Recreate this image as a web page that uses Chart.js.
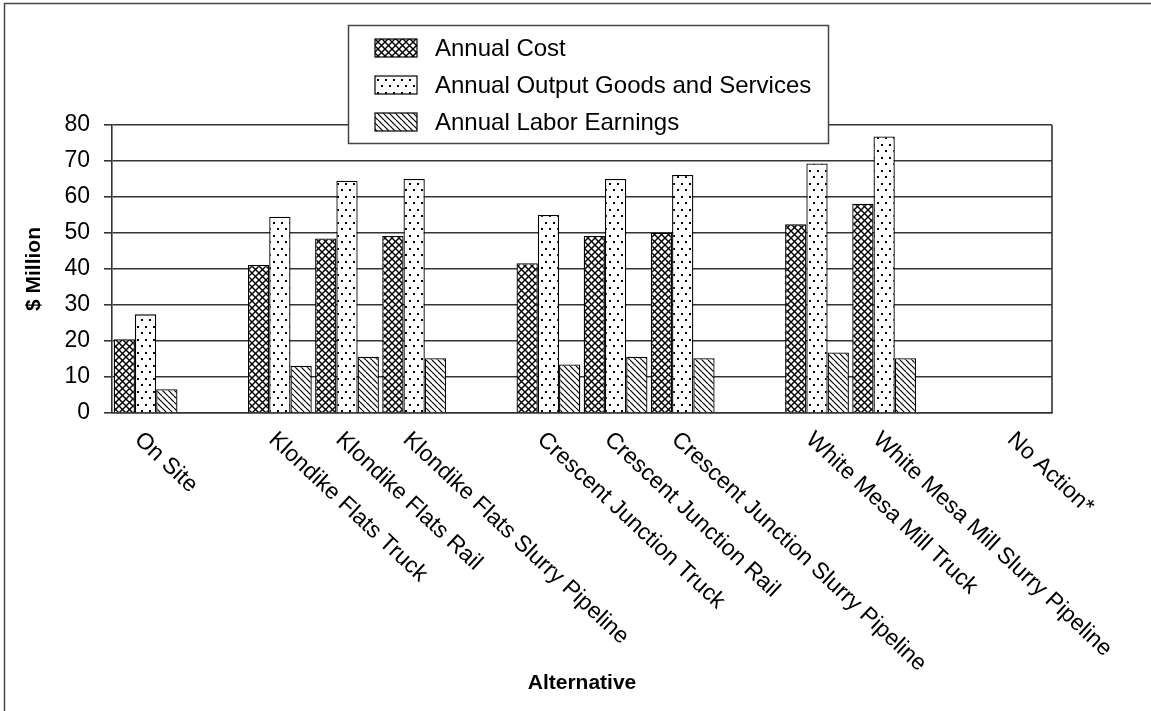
<!DOCTYPE html>
<html>
<head>
<meta charset="utf-8">
<script src="https://cdn.jsdelivr.net/npm/chart.js@4.4.0/dist/chart.umd.min.js"></script>
<style>
  html, body { margin: 0; padding: 0; background: #fff; }
  #wrap { width: 1151px; height: 711px; }
</style>
</head>
<body>
<div id="wrap"><canvas id="chart" width="1151" height="711"></canvas></div>
<script>
// blank entries keep the gaps between the site groups
const categories = [
  "On Site", "",
  "Klondike Flats Truck", "Klondike Flats Rail", "Klondike Flats Slurry Pipeline", "",
  "Crescent Junction Truck", "Crescent Junction Rail", "Crescent Junction Slurry Pipeline", "",
  "White Mesa Mill Truck", "White Mesa Mill Slurry Pipeline", "",
  "No Action*"
];
const annualCost   = [20.5, null, 41.1, 48.5, 49.2, null, 41.6, 49.2, 50.1, null, 52.4, 58.1, null, null];
const annualOutput = [27.4, null, 54.5, 64.5, 65.0, null, 55.0, 65.0, 66.1, null, 69.3, 76.8, null, null];
const annualLabor  = [6.6,  null, 13.1, 15.6, 15.2, null, 13.5, 15.6, 15.2, null, 16.8, 15.2, null, null];
const yMin = 0, yMax = 80, yStep = 10;

const FONT = "'Liberation Sans', Arial, sans-serif";
Chart.defaults.font.family = FONT;
Chart.defaults.color = "#000";

// fill patterns
function tile(size, draw) {
  const c = document.createElement("canvas");
  c.width = size[0]; c.height = size[1];
  const g = c.getContext("2d");
  g.fillStyle = "#fff";
  g.fillRect(0, 0, c.width, c.height);
  draw(g, c.width, c.height);
  return g.createPattern(c, "repeat");
}

const crossHatch = tile([7, 7], (g, w, h) => {
  g.strokeStyle = "#000";
  g.lineWidth = 1.4;
  for (const o of [-w, 0, w]) {
    g.beginPath(); g.moveTo(o, 0); g.lineTo(o + w, h); g.stroke();
    g.beginPath(); g.moveTo(o + w, 0); g.lineTo(o, h); g.stroke();
  }
});

const dots = tile([8, 13], (g) => {
  g.fillStyle = "#000";
  g.fillRect(1, 1, 2, 2);
  g.fillRect(5, 7, 2, 2);
});

const diagonal = tile([6, 6], (g, w, h) => {
  g.strokeStyle = "#000";
  g.lineWidth = 1.2;
  for (const o of [-w, 0, w]) {
    g.beginPath(); g.moveTo(o, 0); g.lineTo(o + w, h); g.stroke();
  }
});

const frame = {
  id: "frame",
  beforeDraw(chart) {
    const ctx = chart.ctx;
    ctx.save();
    ctx.fillStyle = "#fff";
    ctx.fillRect(0, 0, chart.width, chart.height);
    ctx.strokeStyle = "#444";
    ctx.lineWidth = 1.5;
    ctx.strokeRect(4.5, 3.5, chart.width + 20, chart.height + 20);
    ctx.restore();
  },
  afterDatasetsDraw(chart) {
    // right side of the plot box
    const { ctx, chartArea: a } = chart;
    ctx.save();
    ctx.strokeStyle = "#333";
    ctx.lineWidth = 1.6;
    ctx.beginPath();
    ctx.moveTo(a.right, a.top);
    ctx.lineTo(a.right, a.bottom);
    ctx.stroke();
    ctx.restore();
  }
};

// slanted category labels, reading down to the right
const slantLabels = {
  id: "slantLabels",
  afterDraw(chart) {
    const ctx = chart.ctx;
    const x = chart.scales.x;
    ctx.save();
    ctx.fillStyle = "#000";
    ctx.font = "23px " + FONT;
    ctx.textAlign = "left";
    ctx.textBaseline = "top";
    categories.forEach((lab, i) => {
      if (!lab) return;
      ctx.save();
      ctx.translate(x.getPixelForValue(i), x.top + 15);
      ctx.rotate(43 * Math.PI / 180);
      ctx.fillText(lab, 0, 0);
      ctx.restore();
    });
    ctx.restore();
  }
};

const boxLegend = {
  id: "boxLegend",
  afterDraw(chart) {
    const ctx = chart.ctx;
    const box = { x: 348, y: 25, w: 480, h: 118 };
    ctx.save();
    ctx.fillStyle = "#fff";
    ctx.fillRect(box.x, box.y, box.w, box.h);
    ctx.strokeStyle = "#444";
    ctx.lineWidth = 1.5;
    ctx.strokeRect(box.x + 0.5, box.y + 0.5, box.w, box.h);
    ctx.font = "24px " + FONT;
    ctx.textBaseline = "middle";
    chart.data.datasets.forEach((ds, i) => {
      const cy = 48 + i * 37;
      ctx.fillStyle = ds.backgroundColor;
      ctx.fillRect(375, cy - 9, 42, 18);
      ctx.strokeStyle = "#000";
      ctx.lineWidth = 1.2;
      ctx.strokeRect(375, cy - 9, 42, 18);
      ctx.fillStyle = "#000";
      ctx.fillText(ds.label, 435, cy + 1);
    });
    ctx.restore();
  }
};

new Chart(document.getElementById("chart"), {
  type: "bar",
  data: {
    labels: categories,
    datasets: [
      { label: "Annual Cost", data: annualCost, backgroundColor: crossHatch },
      { label: "Annual Output Goods and Services", data: annualOutput, backgroundColor: dots },
      { label: "Annual Labor Earnings", data: annualLabor, backgroundColor: diagonal }
    ]
  },
  options: {
    responsive: false,
    animation: false,
    devicePixelRatio: 1,
    layout: { padding: { top: 125, right: 99, left: 0, bottom: 0 } },
    datasets: {
      bar: {
        categoryPercentage: 0.95,
        barPercentage: 1.0,
        borderColor: "#000",
        borderWidth: 1.3
      }
    },
    plugins: {
      legend: { display: false },
      tooltip: { enabled: false }
    },
    scales: {
      x: {
        afterFit: (s) => { s.height = 298; },
        grid: { display: false },
        border: { display: true, color: "#333", width: 1.6 },
        ticks: { display: false },
        title: {
          display: true,
          text: "Alternative",
          font: { size: 21, weight: "bold" },
          padding: { top: 0, bottom: 15 }
        }
      },
      y: {
        min: yMin,
        max: yMax,
        afterFit: (s) => { s.width = 112; },
        ticks: { stepSize: yStep, padding: 14, font: { size: 23 } },
        grid: { color: "#333", lineWidth: 1.6, tickLength: 8, tickColor: "#333" },
        border: { display: true, color: "#333", width: 1.6 },
        title: {
          display: true,
          text: "$ Million",
          font: { size: 21, weight: "bold" },
          padding: { top: 22, bottom: 0 }
        }
      }
    }
  },
  plugins: [frame, slantLabels, boxLegend]
});
</script>
</body>
</html>
